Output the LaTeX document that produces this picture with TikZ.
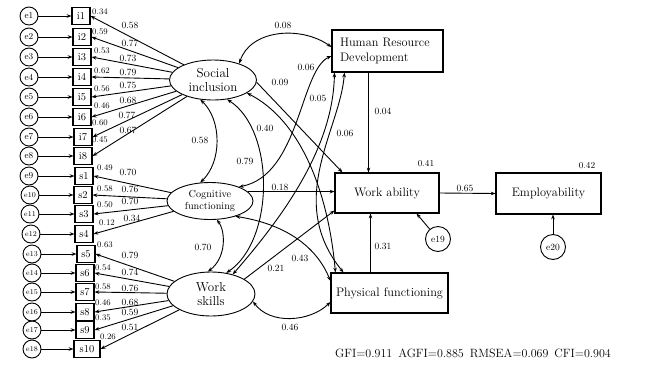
\documentclass[tikz,border=0pt]{standalone}
\usetikzlibrary{arrows.meta,calc,shapes.geometric}
\begin{document}
\begin{tikzpicture}[x=1pt,y=-1pt,
  >={Stealth[length=4.8pt,width=3.6pt]},
  err/.style={circle,draw,line width=0.9pt,minimum size=18pt,inner sep=0pt,font=\fontsize{9}{10}\selectfont},
  errs/.style={err,font=\fontsize{7.5}{8}\selectfont},
  obs/.style={draw,line width=1.1pt,minimum width=18pt,minimum height=17pt,inner sep=0pt,font=\fontsize{10.5}{11}\selectfont},
  lat/.style={ellipse,draw,line width=0.9pt,inner sep=0pt,align=center},
  bigbox/.style={draw,line width=1.1pt,inner sep=0pt,font=\fontsize{12.3}{15}\selectfont},
  num/.style={font=\fontsize{9.5}{10}\selectfont,inner sep=0pt},
  rsq/.style={font=\fontsize{8.5}{9}\selectfont,inner sep=0pt},
  pth/.style={->,line width=0.9pt},
  cov/.style={<->,line width=0.9pt}]
\path[use as bounding box,fill=white] (0,0) rectangle (649,365);

% latent variables
\node[lat,minimum width=87pt,minimum height=40pt,font=\fontsize{13}{14}\selectfont] (SI) at (213,80) {Social\\inclusion};
\node[lat,minimum width=86pt,minimum height=37pt,font=\fontsize{10.2}{11.5}\selectfont] (CF) at (210,201) {Cognitive\\functioning};
\node[lat,minimum width=88pt,minimum height=44pt,font=\fontsize{13}{14}\selectfont] (WS) at (211,294) {Work\\skills};

% observed boxes
\foreach \n/\x/\y in {i1/81/16,i2/82/37,i3/82/57,i4/82/77,i5/82/97,i6/82/117,i7/83/137,i8/83/156,
  s1/84/176,s2/83/195,s3/84/214,s4/84/234,s5/86/254,s6/85/273,s7/85/292,s8/85/312,s9/85/330}
  \node[obs] (\n) at (\x,\y) {\n};
\node[obs,minimum width=26pt] (s10) at (87,349) {s10};

% error terms
\foreach \n/\y in {1/16,2/37,3/57,4/77,5/97,6/117,7/137,8/156,9/176}
  \node[err] (e\n) at (29,\y) {e\n};
\foreach \n/\x/\y in {10/30/195,11/30/214,12/31/234,13/32/254,14/32/273,15/32/292,16/32/312,17/32/330,18/32/349}
  \node[errs] (e\n) at (\x,\y) {e\n};
\foreach \e/\b in {1/i1,2/i2,3/i3,4/i4,5/i5,6/i6,7/i7,8/i8,9/s1,10/s2,11/s3,12/s4,13/s5,14/s6,15/s7,16/s8,17/s9,18/s10}
  \draw[pth] (e\e) -- (\b.west);

% loadings
\foreach \b in {i1,i2,i3,i4,i5,i6,i7,i8} \draw[pth] (SI) -- (\b.east);
\foreach \b in {s1,s2,s3,s4} \draw[pth] (CF) -- (\b.east);
\foreach \b in {s5,s6,s7,s8,s9,s10} \draw[pth] (WS) -- (\b.east);

\foreach \t/\x/\y [count=\k] in {0.34/100/12,0.59/100/32,0.53/102/51,0.62/102/71,0.56/102/89,0.46/102/106,0.60/100/123,0.45/100/140,
  0.49/105/168,0.58/105/189,0.50/105/205,0.12/107/223,0.63/105/245,0.54/103/268,0.58/103/287,0.46/103/303,0.35/103/318,0.26/108/337}
  \node[rsq] (r\k) at (\x,\y) {\t};
\foreach \t/\x/\y [count=\k] in {0.58/130/25,0.77/130/43,0.73/128/58,0.79/128/72,0.75/128/85,0.68/128/100,0.77/127/115,0.67/128/130,
  0.70/128/172,0.76/130/189,0.70/130/201,0.34/132/218,0.79/130/255,0.74/130/272,0.76/130/288,0.68/130/302,0.59/130/312,0.51/130/327}
  \node[num] (l\k) at (\x,\y) {\t};

% right side boxes
\node[bigbox,minimum width=111pt,minimum height=42pt,text width=95pt,align=left] (HRD) at (387.5,51) {Human Resource\\Development};
\node[bigbox,minimum width=104pt,minimum height=40pt] (WA) at (387,193) {Work ability};
\node[bigbox,minimum width=105pt,minimum height=41pt] (E) at (548.5,193.5) {Employability};
\node[bigbox,minimum width=117pt,minimum height=40pt] (PF) at (389.5,293) {Physical functioning};
\node[err,minimum size=25pt,font=\fontsize{9.5}{10}\selectfont] (e19) at (438,239) {e19};
\node[err,minimum size=25pt,font=\fontsize{9.5}{10}\selectfont] (e20) at (553,247) {e20};

% correlations
\draw[cov] (SI.32) .. controls (250,30) and (300,25) .. ($(HRD.west)+(0,-4)$);
\draw[cov] (SI.-123) .. controls (222,120) and (222,162) .. (CF.118);
\draw[cov] (CF.-70) .. controls (226,232) and (226,258) .. (WS.98);
\draw[cov] (SI.-54) .. controls (275,130) and (275,240) .. (WS.54);
\draw[cov] (SI.-21) .. controls (300,120) and (328,190) .. ($(PF.north west)+(5,0)$);
\draw[cov] ($(HRD.west)+(0,5)$) .. controls (300,70) and (300,175) .. (CF.26);
\draw[cov] ($(HRD.south west)+(3,0)$) .. controls (333,150) and (280,220) .. (WS.42);
\draw[cov] ($(HRD.south west)+(13,0)$) .. controls (340,130) and (285,200) .. ($(PF.north west)+(13,0)$);
\draw[cov] (CF.-31) .. controls (290,225) and (318,250) .. ($(PF.west)+(0,-12)$);
\draw[cov] (WS.-10) .. controls (270,325) and (310,322) .. ($(PF.west)+(0,9)$);

% paths
\draw[pth] (SI.-3) -- ($(WA.north west)+(8,0)$);
\draw[pth] (CF.14) coordinate (cfo) -- (cfo -| WA.west);
\draw[pth] (WS.24) -- ($(WA.south west)+(0,-3)$);
\draw[pth] ($(HRD.south)+(-19,0)$) coordinate (h) -- (h |- WA.north);
\draw[pth] ($(PF.north)+(-19,0)$) coordinate (p) -- (p |- WA.south);
\draw[pth] (WA.east) -- (E.west);
\draw[pth] (e19) -- ($(WA.south east)+(-23,0)$);
\draw[pth] (e20) -- (e20 |- E.south);

% path labels
\foreach \t/\x/\y [count=\k] in {0.08/283/25,0.09/280/82,0.58/200/140,0.79/245/161,0.40/265/128,0.06/306/67,0.05/318/98,0.06/345/133,
  0.70/203/247,0.18/280/187,0.21/276/268,0.43/300/258,0.46/290/327,0.04/383/111,0.31/383/246,0.65/465/188}
  \node[num] (c\k) at (\x,\y) {\t};
\node[rsq,font=\fontsize{9}{10}\selectfont] (r41) at (426,164) {0.41};
\node[rsq,font=\fontsize{9}{10}\selectfont] (r42) at (587,166) {0.42};

\node[inner sep=0pt,font=\fontsize{12}{14}\selectfont] (fit) at (473,353) {GFI=0.911\hspace{0.5em}AGFI=0.885\hspace{0.5em}RMSEA=0.069\hspace{0.5em}CFI=0.904};
\end{tikzpicture}
\end{document}
